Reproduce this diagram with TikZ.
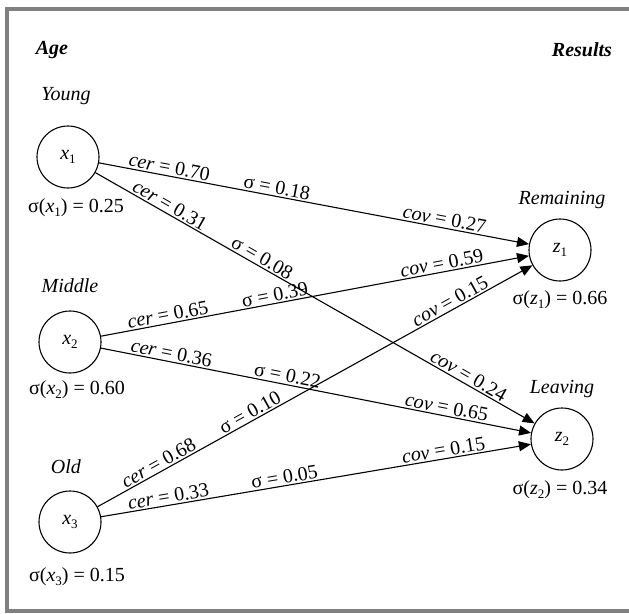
\documentclass[tikz,border=0pt]{standalone}
\usepackage{fontspec}
\setmainfont{Liberation Serif}
\usetikzlibrary{arrows.meta}
\newcommand\lowsub[1]{\raisebox{-0.35ex}{\fontsize{13}{13}\selectfont #1}}
\definecolor{framegray}{HTML}{808080}
\begin{document}
\begin{tikzpicture}[x=1pt,y=-1pt, font=\fontsize{20}{24}\selectfont,
  var/.style={circle,draw,line width=1.1pt,minimum size=62pt,inner sep=0pt},
  txt/.style={inner sep=0pt},
  edge/.style={line width=1.1pt,-{Triangle[length=12pt,width=10pt]}},
  lab/.style={sloped,above,inner sep=1.5pt},
]
\useasboundingbox (0,0) rectangle (629,613);
\fill[framegray] (5,7) rectangle (629,11);
\fill[framegray] (5,7) rectangle (9,613);
\fill[framegray] (5,609) rectangle (629,613);

\node[txt] (age) at (52,50) {\textbf{\textit{Age}}};
\node[txt] (res) at (582,50) {\textbf{\textit{Results}}};

\node[txt] (young) at (66,96) {\textit{Young}};
\node[var] (x1) at (68,157) {\textit{x}\lowsub{1}};
\node[txt] (sx1) at (76,208) {σ(\textit{x}\lowsub{1}) = 0.25};

\node[txt] (middle) at (70,286) {\textit{Middle}};
\node[var] (x2) at (70,342) {\textit{x}\lowsub{2}};
\node[txt] (sx2) at (77,390) {σ(\textit{x}\lowsub{2}) = 0.60};

\node[txt] (old) at (66,467) {\textit{Old}};
\node[var] (x3) at (70,522) {\textit{x}\lowsub{3}};
\node[txt] (sx3) at (77,577) {σ(\textit{x}\lowsub{3}) = 0.15};

\node[txt] (remaining) at (562,200) {\textit{Remaining}};
\node[var] (z1) at (560,250) {\textit{z}\lowsub{1}};
\node[txt] (sz1) at (560,300) {σ(\textit{z}\lowsub{1}) = 0.66};

\node[txt] (leaving) at (562,389) {\textit{Leaving}};
\node[var] (z2) at (562,439) {\textit{z}\lowsub{2}};
\node[txt] (sz2) at (560,490) {σ(\textit{z}\lowsub{2}) = 0.34};

\draw[edge] (x1) -- node[lab,pos=0.16]{\textit{cer} = 0.70} node[lab,pos=0.41]{σ = 0.18} node[lab,pos=0.8]{\textit{cov} = 0.27} (z1);
\draw[edge] (x1) -- node[lab,pos=0.16]{\textit{cer} = 0.31} node[lab,pos=0.37]{σ = 0.08} node[lab,pos=0.84]{\textit{cov} = 0.24} (z2);
\draw[edge] (x2) -- node[lab,pos=0.16]{\textit{cer} = 0.65} node[lab,pos=0.41]{σ = 0.39} node[lab,pos=0.8]{\textit{cov} = 0.59} (z1);
\draw[edge] (x2) -- node[lab,pos=0.16]{\textit{cer} = 0.36} node[lab,pos=0.43]{σ = 0.22} node[lab,pos=0.8]{\textit{cov} = 0.65} (z2);
\draw[edge] (x3) -- node[lab,pos=0.15]{\textit{cer} = 0.68} node[lab,pos=0.36]{σ = 0.10} node[lab,pos=0.82]{\textit{cov} = 0.15} (z1);
\draw[edge] (x3) -- node[lab,pos=0.16]{\textit{cer} = 0.33} node[lab,pos=0.43]{σ = 0.05} node[lab,pos=0.8]{\textit{cov} = 0.15} (z2);
\end{tikzpicture}
\end{document}
